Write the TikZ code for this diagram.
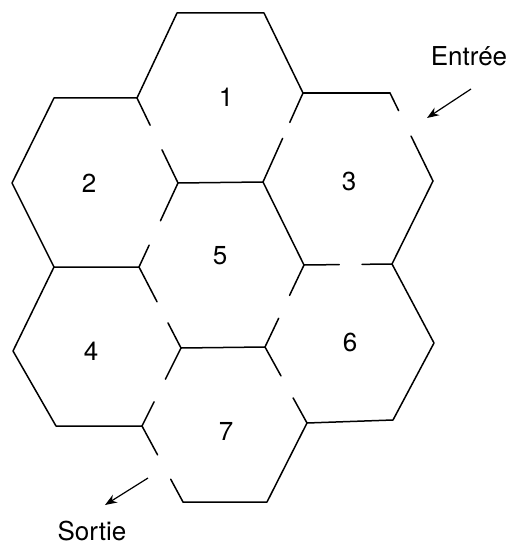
\documentclass[tikz,border=0pt]{standalone}
\usepackage{fontspec}
\setmainfont{TeX Gyre Heros}
\usetikzlibrary{calc,arrows.meta}
\newcommand\doorwall[4]{\draw[wall] (#1) -- ($(#1)!#3!(#2)$); \draw[wall] ($(#1)!#4!(#2)$) -- (#2);}
\begin{document}
\begin{tikzpicture}[x=1pt,y=-1pt,
  wall/.style={line width=1.5pt,line cap=round,line join=round},
  lbl/.style={font=\fontsize{26}{30}\selectfont,inner sep=0pt},
  ptr/.style={line width=1.2pt,-{Stealth[length=12pt,width=9pt]}}]
\useasboundingbox (0,0) rectangle (508,545);
% vertices
\coordinate (A1) at (177,13);
\coordinate (A2) at (264,13);
\coordinate (P1) at (137,98);
\coordinate (P2) at (303,93);
\coordinate (Q1) at (178,183);
\coordinate (Q2) at (263,182);
\coordinate (B1) at (54,98);
\coordinate (B2) at (12,183);
\coordinate (B3) at (54,267);
\coordinate (R1) at (139,267);
\coordinate (C1) at (390,93);
\coordinate (C2) at (433,181);
\coordinate (R2) at (304,265);
\coordinate (C3) at (392,264);
\coordinate (D1) at (13,351);
\coordinate (D2) at (56,426);
\coordinate (S1) at (181,348);
\coordinate (S2) at (265,347);
\coordinate (T1) at (142,426);
\coordinate (E1) at (434,343);
\coordinate (E2) at (393,420);
\coordinate (T2) at (307,423);
\coordinate (F1) at (183,502);
\coordinate (F2) at (267,502);
% full walls
\draw[wall] (P1) -- (A1) -- (A2) -- (P2);
\draw[wall] (Q1) -- (Q2) -- (R2);
\draw[wall] (P1) -- (B1) -- (B2) -- (B3) -- (R1);
\draw[wall] (P2) -- (C1);
\draw[wall] (C2) -- (C3) -- (E1) -- (E2) -- (T2) -- (F2) -- (F1);
\draw[wall] (B3) -- (D1) -- (D2) -- (T1);
\draw[wall] (S1) -- (S2);
% walls with doors
\doorwall{P1}{Q1}{0.32}{0.61}
\doorwall{P2}{Q2}{0.33}{0.51}
\doorwall{Q1}{R1}{0.45}{0.74}
\doorwall{R1}{S1}{0.43}{0.69}
\doorwall{S2}{R2}{0.35}{0.63}
\doorwall{R2}{C3}{0.40}{0.66}
\doorwall{C1}{C2}{0.20}{0.49}
\doorwall{S2}{T2}{0.38}{0.67}
\doorwall{S1}{T1}{0.40}{0.69}
\doorwall{T1}{F1}{0.38}{0.70}
% room numbers
\node[lbl] (n1) at (226,97) {1};
\node[lbl] (n2) at (89,183) {2};
\node[lbl] (n3) at (349,181) {3};
\node[lbl] (n4) at (91,351) {4};
\node[lbl] (n5) at (220,256) {5};
\node[lbl] (n6) at (350,342) {6};
\node[lbl] (n7) at (226,431) {7};
% entrance and exit
\node[lbl] (entree) at (469,56) {Entrée};
\node[lbl] (sortie) at (92,531) {Sortie};
\coordinate (ein) at (471,89);
\coordinate (eout) at (427,118);
\coordinate (sin) at (148,478);
\coordinate (sout) at (105,505);
\draw[ptr] (ein) -- (eout);
\draw[ptr] (sin) -- (sout);
\end{tikzpicture}
\end{document}
